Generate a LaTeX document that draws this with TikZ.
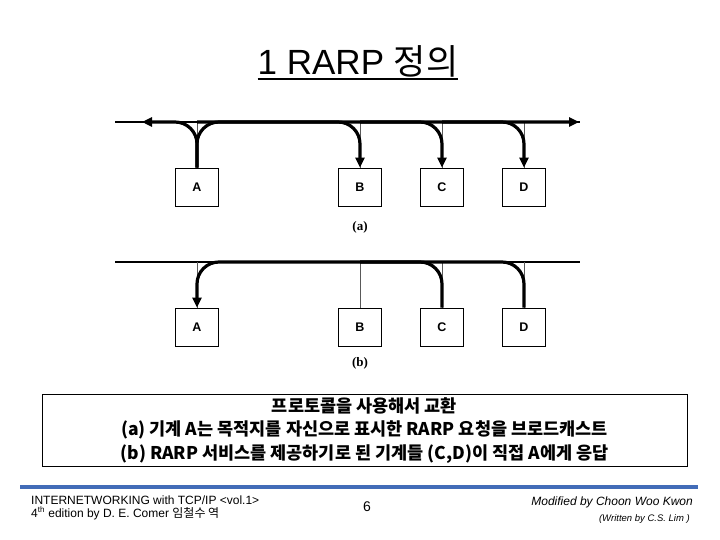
\documentclass[tikz,border=0pt]{standalone}
\usepackage{fontspec}
\setmainfont{Liberation Serif}
\setsansfont{Liberation Sans}
\newfontfamily\cjk{Noto Sans CJK KR}
\usepackage{xcolor}
\usepackage{tikz}
\usetikzlibrary{positioning, arrows.meta}
\definecolor{barblue}{RGB}{66,108,184}

\begin{document}
\begin{tikzpicture}[x=1pt, y=-1pt,
    host/.style={rectangle, draw, line width=0.8pt, minimum width=43pt, minimum height=38pt, font=\sffamily\bfseries\fontsize{12.5}{14}\selectfont},
    bus/.style={line width=1.6pt},
    stem/.style={line width=0.6pt, black!65},
    flow/.style={line width=3.2pt, rounded corners=22pt},
    tip/.style={-{Triangle[length=10pt, width=9pt]}},
    sub/.style={font=\rmfamily\bfseries\fontsize{13}{15}\selectfont}]
    \useasboundingbox (0,0) rectangle (720,540);

    \node (title) [anchor=base, inner sep=0pt, font=\sffamily\fontsize{35}{40}\selectfont] at (358,75) {1 RARP {\cjk 정의}};
    \draw[line width=2pt] ([yshift=-4pt]title.base west) -- ([yshift=-4pt]title.base east);

    \node (A) [host] at (197,187) {A};
    \node (B) [host, right of=A, node distance=163pt] {B};
    \node (C) [host, right of=B, node distance=82pt] {C};
    \node (D) [host, right of=C, node distance=82pt] {D};
    \coordinate (busL) at (115,122);
    \coordinate (busR) at (580,122);
    \coordinate (endL) at (142,122);
    \coordinate (endR) at (579,122);

    \draw[bus] (busL) -- (busR);
    \foreach \h in {A, B, C, D}
        \draw[stem] (\h.north |- busL) -- (\h.north);
    \draw[flow, tip] (A.north) -- (A.north |- busL) -- (endL);
    \draw[flow, tip] (A.north) -- (A.north |- busL) -- (endR);
    \draw[flow, tip] (A.north |- busL) -- (B.north |- busL) -- (B.north);
    \draw[flow, tip] (B.north |- busL) -- (C.north |- busL) -- (C.north);
    \draw[flow, tip] (C.north |- busL) -- (D.north |- busL) -- (D.north);
    \node (capa) [sub] at (360,227) {(a)};

    \node (A2) [host] at (197,327) {A};
    \node (B2) [host, right of=A2, node distance=163pt] {B};
    \node (C2) [host, right of=B2, node distance=82pt] {C};
    \node (D2) [host, right of=C2, node distance=82pt] {D};
    \coordinate (busL2) at (115,262);
    \coordinate (busR2) at (580,262);

    \draw[bus] (busL2) -- (busR2);
    \foreach \h in {A2, B2, C2, D2}
        \draw[stem] (\h.north |- busL2) -- (\h.north);
    \draw[flow, tip] (D2.north) -- (D2.north |- busL2) -- (A2.north |- busL2) -- (A2.north);
    \draw[flow] (C2.north) -- (C2.north |- busL2) -- (B2.north |- busL2);
    \node (capb) [sub] at (360,363) {(b)};

    \node (note) [draw, line width=0.8pt, minimum width=645pt, minimum height=67pt, align=center,
        font=\cjk\bfseries\fontsize{17.5}{23.5}\selectfont] at (364.5,430.5)
        {프로토콜을 사용해서 교환\\
         (a) 기계 A는 목적지를 자신으로 표시한 RARP 요청을 브로드캐스트\\
         (b) RARP 서비스를 제공하기로 된 기계들 (C,D)이 직접 A에게 응답};

    \draw[barblue, line width=4pt] (20,487) -- (698,487);
    \node (book) [anchor=base west, inner sep=0pt, font=\sffamily\fontsize{12}{14}\selectfont] at (31,504) {INTERNETWORKING with TCP/IP <vol.1>};
    \node (ed) [anchor=base west, inner sep=0pt, font=\sffamily\fontsize{12}{14}\selectfont] at (31,517) {4\textsuperscript{th} edition by D. E. Comer {\cjk 임철수 역}};
    \node (page) [anchor=base, inner sep=0pt, font=\sffamily\fontsize{14}{16}\selectfont] at (367,511) {6};
    \node (mod) [anchor=base east, inner sep=0pt, font=\sffamily\itshape\fontsize{12}{14}\selectfont] at (693,505) {Modified by Choon Woo Kwon};
    \node (wr) [anchor=base east, inner sep=0pt, font=\sffamily\itshape\fontsize{9.5}{11}\selectfont] at (690,521) {(Written by C.S. Lim )};
\end{tikzpicture}
\end{document}
